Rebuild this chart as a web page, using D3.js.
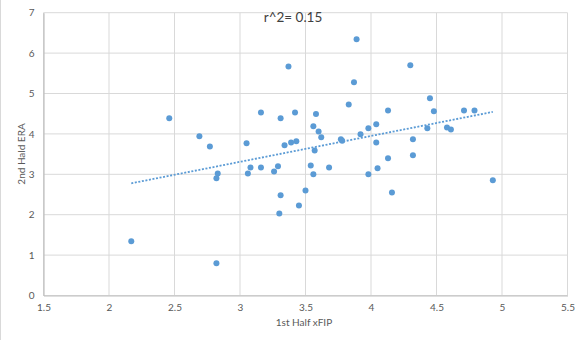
<!DOCTYPE html>
<html>
<head>
<meta charset="utf-8">
<script src="https://cdn.jsdelivr.net/npm/d3@7"></script>
<style>
  html, body { margin: 0; padding: 0; background: #fff; }
  svg text { font-family: Lato, "Open Sans", sans-serif; }
</style>
</head>
<body>
<svg id="chart" width="585" height="340"></svg>
<script>
// 1st half xFIP vs 2nd half ERA, one entry per pitcher
const xfip = [
  2.17, 2.46, 2.69, 2.77, 2.83, 2.82, 2.82, 3.05, 3.06, 3.08,
  3.16, 3.16, 3.26, 3.29, 3.31, 3.31, 3.30, 3.34, 3.37, 3.39,
  3.43, 3.42, 3.45, 3.50, 3.54, 3.56, 3.56, 3.57, 3.58, 3.60,
  3.62, 3.68, 3.77, 3.78, 3.83, 3.87, 3.89, 3.92, 3.98, 3.98,
  4.04, 4.04, 4.05, 4.13, 4.13, 4.16, 4.30, 4.32, 4.32, 4.43,
  4.45, 4.48, 4.58, 4.61, 4.71, 4.79, 4.93
];
const era = [
  1.34, 4.39, 3.94, 3.69, 3.02, 2.90, 0.80, 3.77, 3.02, 3.17,
  4.53, 3.17, 3.07, 3.20, 4.39, 2.48, 2.03, 3.72, 5.67, 3.79,
  3.82, 4.53, 2.23, 2.60, 3.22, 3.00, 4.19, 3.59, 4.49, 4.06,
  3.92, 3.17, 3.87, 3.83, 4.73, 5.28, 6.34, 3.99, 4.14, 3.00,
  4.24, 3.79, 3.15, 4.58, 3.40, 2.55, 5.70, 3.87, 3.47, 4.14,
  4.88, 4.56, 4.16, 4.11, 4.58, 4.58, 2.85
];
const xTicks = [1.5, 2, 2.5, 3, 3.5, 4, 4.5, 5, 5.5];
const yTicks = [0, 1, 2, 3, 4, 5, 6, 7];
const titleText = "r^2= 0.15";
const xTitle = "1st Half xFIP";
const yTitle = "2nd Hald ERA";

const svg = d3.select("#chart");
const W = 585, H = 340;
const m = { left: 43.5, right: 567.5, top: 12.7, bottom: 295.5 };

const x = d3.scaleLinear().domain([1.5, 5.5]).range([m.left, m.right]);
const y = d3.scaleLinear().domain([0, 7]).range([m.bottom, m.top]);

// chart frame edge on the left
svg.append("line")
  .attr("x1", 0.5).attr("x2", 0.5).attr("y1", 0).attr("y2", H)
  .attr("stroke", "#d9d9d9").attr("stroke-width", 1);

// gridlines
const grid = svg.append("g").attr("stroke", "#d9d9d9").attr("stroke-width", 1);
grid.selectAll(".gx").data(xTicks).join("line")
  .attr("x1", d => x(d)).attr("x2", d => x(d))
  .attr("y1", m.top).attr("y2", m.bottom);
grid.selectAll(".gy").data(yTicks).join("line")
  .attr("x1", m.left).attr("x2", m.right)
  .attr("y1", d => y(d)).attr("y2", d => y(d));

// axes
const xAxis = d3.axisBottom(x).tickValues(xTicks).tickSize(0).tickPadding(8)
  .tickFormat(d3.format("~g"));
const yAxis = d3.axisLeft(y).tickValues(yTicks).tickSize(0).tickPadding(9)
  .tickFormat(d3.format("~g"));

const gx = svg.append("g").attr("transform", `translate(0,${m.bottom})`).call(xAxis);
const gy = svg.append("g").attr("transform", `translate(${m.left},0)`).call(yAxis);
[gx, gy].forEach(g => {
  g.select(".domain").attr("stroke", "#bfbfbf").attr("stroke-width", 1.2);
  g.selectAll("text").attr("fill", "#595959").attr("font-size", 10)
    .style("font-family", "Lato, 'Open Sans', sans-serif");
});

// least-squares trendline over the data range
const n = xfip.length;
const mx = d3.mean(xfip), my = d3.mean(era);
let sxy = 0, sxx = 0;
for (let i = 0; i < n; i++) {
  sxy += (xfip[i] - mx) * (era[i] - my);
  sxx += (xfip[i] - mx) ** 2;
}
const slope = sxy / sxx, intercept = my - slope * mx;
const [x0, x1] = d3.extent(xfip);
svg.append("line")
  .attr("x1", x(x0)).attr("y1", y(intercept + slope * x0))
  .attr("x2", x(x1)).attr("y2", y(intercept + slope * x1))
  .attr("stroke", "#5b9bd5").attr("stroke-width", 1.8)
  .attr("stroke-dasharray", "2,1.6");

// points
svg.append("g").selectAll("circle").data(d3.range(n)).join("circle")
  .attr("cx", i => x(xfip[i])).attr("cy", i => y(era[i]))
  .attr("r", 3).attr("fill", "#5b9bd5");

// titles
svg.append("text").attr("x", 293).attr("y", 21.5)
  .attr("text-anchor", "middle").attr("font-size", 13.5).attr("fill", "#404040")
  .text(titleText);
svg.append("text").attr("x", 304).attr("y", 325.5)
  .attr("text-anchor", "middle").attr("font-size", 10).attr("fill", "#595959")
  .text(xTitle);
svg.append("text")
  .attr("transform", "translate(25,154) rotate(-90)")
  .attr("text-anchor", "middle").attr("font-size", 10).attr("fill", "#595959")
  .text(yTitle);
</script>
</body>
</html>
